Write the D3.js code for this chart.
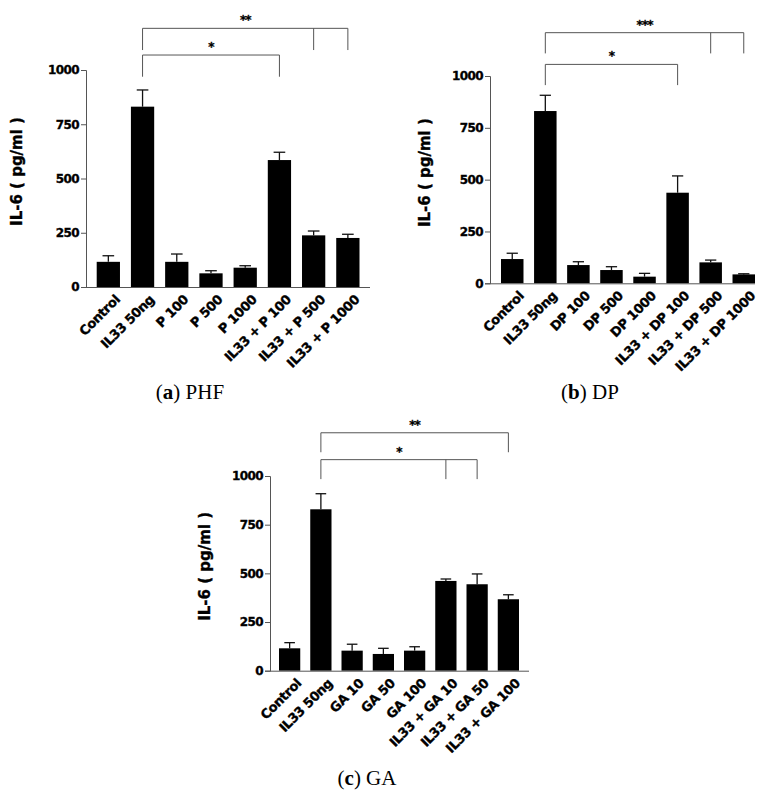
<!DOCTYPE html>
<html>
<head>
<meta charset="utf-8">
<script src="https://cdn.jsdelivr.net/npm/d3@7"></script>
<style>
  body { margin: 0; background: #fff; }
  svg { display: block; }
</style>
</head>
<body>
<svg id="chart" width="770" height="793"></svg>
<script>
// values (IL-6, pg/ml), upper error = SEM
var yTicks = [0, 250, 500, 750, 1000];
var yLabel = 'IL-6 ( pg/ml )';

var phfCategories = ['Control', 'IL33 50ng', 'P 100', 'P 500', 'P 1000', 'IL33 + P 100', 'IL33 + P 500', 'IL33 + P 1000'];
var phfMeans = [116, 831, 116, 63, 89, 585, 238, 226];
var phfSem = [28, 77, 36, 12, 9, 36, 20, 17];
var phfBrackets = [
  {label: '**', from: 'IL33 50ng', to: ['IL33 + P 500', 'IL33 + P 1000'], level: 1192},
  {label: '*', from: 'IL33 50ng', to: ['IL33 + P 100'], level: 1069}
];

var dpCategories = ['Control', 'IL33 50ng', 'DP 100', 'DP 500', 'DP 1000', 'IL33 + DP 100', 'IL33 + DP 500', 'IL33 + DP 1000'];
var dpMeans = [117, 831, 88, 64, 32, 437, 101, 43];
var dpSem = [28, 76, 16, 16, 16, 81, 11, 3];
var dpBrackets = [
  {label: '***', from: 'IL33 50ng', to: ['IL33 + DP 500', 'IL33 + DP 1000'], level: 1209},
  {label: '*', from: 'IL33 50ng', to: ['IL33 + DP 100'], level: 1056}
];

var gaCategories = ['Control', 'IL33 50ng', 'GA 10', 'GA 50', 'GA 100', 'IL33 + GA 10', 'IL33 + GA 50', 'IL33 + GA 100'];
var gaMeans = [115, 829, 103, 86, 103, 461, 444, 367];
var gaSem = [29, 80, 33, 29, 20, 10, 53, 23];
var gaBrackets = [
  {label: '**', from: 'IL33 50ng', to: ['IL33 + GA 100'], level: 1222},
  {label: '*', from: 'IL33 50ng', to: ['IL33 + GA 10', 'IL33 + GA 50'], level: 1084}
];

var svg = d3.select('#chart');
svg.append('rect').attr('width', 770).attr('height', 793).attr('fill', '#fff');

var bold = '"DejaVu Sans", Verdana, sans-serif';
var axisColor = '#555';

// heavy bold look of the original figure text
function heavy(sel, size) {
  sel.style('font-family', bold)
    .style('font-weight', 'bold')
    .style('font-size', size)
    .attr('fill', '#000')
    .attr('stroke', '#000')
    .attr('stroke-width', 0.35);
}

function drawPanel(cfg) {
  var g = svg.append('g');

  var x = d3.scaleBand()
    .domain(cfg.categories)
    .range([cfg.barLeft, cfg.barRight])
    .paddingInner(0.32)
    .paddingOuter(0);

  var y = d3.scaleLinear()
    .domain([0, 1000])
    .range([cfg.bottom, cfg.top]);

  var data = cfg.categories.map(function(c, i) {
    return {cat: c, mean: cfg.means[i], sem: cfg.sem[i]};
  });

  // error bars (drawn first, bar covers the lower half)
  var capW = x.bandwidth() * 0.25;
  var err = g.append('g')
    .attr('stroke', '#111')
    .attr('stroke-width', 1.3);
  err.selectAll('line.v')
    .data(data)
    .enter()
    .append('line')
    .attr('class', 'v')
    .attr('x1', function(d) { return x(d.cat) + x.bandwidth() / 2; })
    .attr('x2', function(d) { return x(d.cat) + x.bandwidth() / 2; })
    .attr('y1', function(d) { return y(d.mean); })
    .attr('y2', function(d) { return y(d.mean + d.sem); });
  err.selectAll('line.c')
    .data(data)
    .enter()
    .append('line')
    .attr('class', 'c')
    .attr('x1', function(d) { return x(d.cat) + x.bandwidth() / 2 - capW; })
    .attr('x2', function(d) { return x(d.cat) + x.bandwidth() / 2 + capW; })
    .attr('y1', function(d) { return y(d.mean + d.sem); })
    .attr('y2', function(d) { return y(d.mean + d.sem); });

  g.selectAll('rect.bar')
    .data(data)
    .enter()
    .append('rect')
    .attr('class', 'bar')
    .attr('x', function(d) { return x(d.cat); })
    .attr('y', function(d) { return y(d.mean); })
    .attr('width', x.bandwidth())
    .attr('height', function(d) { return cfg.bottom - y(d.mean); })
    .attr('fill', '#000');

  // y axis
  var yAxis = d3.axisLeft(y)
    .tickValues(yTicks)
    .tickFormat(d3.format('d'))
    .tickSize(5)
    .tickPadding(2);
  var ya = g.append('g')
    .attr('transform', 'translate(' + cfg.left + ',0)')
    .call(yAxis);
  ya.select('.domain').attr('stroke', axisColor);
  ya.selectAll('.tick line').attr('stroke', axisColor);
  ya.selectAll('.tick text')
    .call(heavy, '12px')
    .style('letter-spacing', '-0.6px');

  // x axis line
  g.append('line')
    .attr('x1', cfg.left)
    .attr('x2', cfg.axisRight)
    .attr('y1', cfg.bottom + 0.5)
    .attr('y2', cfg.bottom + 0.5)
    .attr('stroke', axisColor)
    .attr('stroke-width', 1);

  // rotated category labels
  g.selectAll('text.cat')
    .data(cfg.categories)
    .enter()
    .append('text')
    .attr('class', 'cat')
    .attr('transform', function(d) {
      return 'translate(' + (x(d) + x.bandwidth() / 2 + 6) + ',' + (cfg.bottom + 7) + ') rotate(-45)';
    })
    .attr('text-anchor', 'end')
    .attr('dy', '0.7em')
    .call(heavy, '13px')
    .style('letter-spacing', '-0.4px')
    .text(function(d) { return d; });

  // y title
  g.append('text')
    .attr('transform', 'translate(' + cfg.titleX + ',' + ((cfg.top + cfg.bottom) / 2 - 7) + ') rotate(-90)')
    .attr('text-anchor', 'middle')
    .attr('dy', '0.35em')
    .call(heavy, '15px')
    .text(yLabel);

  // significance brackets
  var drop = 100;
  var mid = function(c) { return x(c) + x.bandwidth() / 2; };
  cfg.brackets.forEach(function(b) {
    var bg = g.append('g')
      .attr('stroke', axisColor)
      .attr('stroke-width', 1)
      .attr('fill', 'none');
    var x0 = mid(b.from);
    var xs = b.to.map(mid);
    var x1 = d3.max(xs);
    bg.append('line')
      .attr('x1', x0).attr('x2', x1)
      .attr('y1', y(b.level)).attr('y2', y(b.level));
    [x0].concat(xs).forEach(function(xx) {
      bg.append('line')
        .attr('x1', xx).attr('x2', xx)
        .attr('y1', y(b.level)).attr('y2', y(b.level - drop));
    });
    g.append('text')
      .attr('x', (x0 + x1) / 2)
      .attr('y', y(b.level) - 4)
      .attr('text-anchor', 'middle')
      .call(heavy, '12px')
      .style('letter-spacing', '-1px')
      .text(b.label);
  });

  // panel caption
  var caption = g.append('text')
    .attr('x', cfg.captionX)
    .attr('y', cfg.captionY)
    .attr('text-anchor', 'middle')
    .style('font-family', '"Liberation Serif", "Times New Roman", serif')
    .style('font-size', '21px');
  caption.append('tspan').text('(');
  caption.append('tspan').style('font-weight', 'bold').text(cfg.letter);
  caption.append('tspan').text(') ' + cfg.name);
}

drawPanel({
  categories: phfCategories, means: phfMeans, sem: phfSem, brackets: phfBrackets,
  left: 86, top: 70, bottom: 287, barLeft: 96.7, barRight: 359.5, axisRight: 370,
  titleX: 17, captionX: 190, captionY: 399, letter: 'a', name: 'PHF'
});

drawPanel({
  categories: dpCategories, means: dpMeans, sem: dpSem, brackets: dpBrackets,
  left: 490, top: 76, bottom: 283.3, barLeft: 501, barRight: 755, axisRight: 755,
  titleX: 425, captionX: 590, captionY: 399, letter: 'b', name: 'DP'
});

drawPanel({
  categories: gaCategories, means: gaMeans, sem: gaSem, brackets: gaBrackets,
  left: 270, top: 476, bottom: 670.7, barLeft: 279, barRight: 519, axisRight: 529,
  titleX: 205, captionX: 367, captionY: 785, letter: 'c', name: 'GA'
});
</script>
</body>
</html>
